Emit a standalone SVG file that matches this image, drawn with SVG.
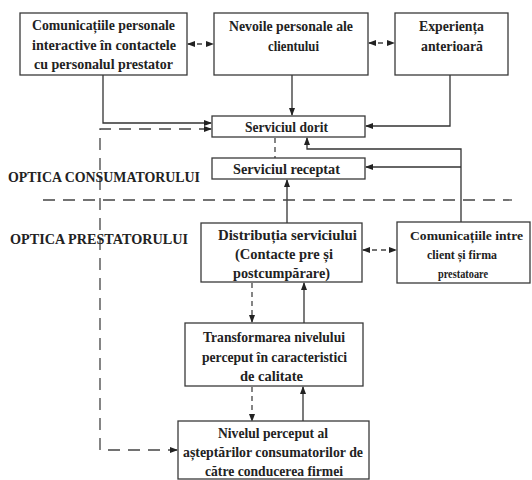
<svg xmlns="http://www.w3.org/2000/svg" width="532" height="480" viewBox="0 0 532 480">
<style>
.box{fill:#fff;stroke:#3a3a3a;stroke-width:1.3}
.t{font-family:"Liberation Serif","Times New Roman",serif;font-weight:bold;font-size:15px;fill:#222}
.s{font-size:13.5px}
.ln{fill:none;stroke:#333;stroke-width:1.3}
.dl{fill:none;stroke:#444;stroke-width:1.3;stroke-dasharray:12 8}
.ds{fill:none;stroke:#444;stroke-width:1.3;stroke-dasharray:5 4}
</style>
<defs>
<marker id="ah" markerUnits="userSpaceOnUse" markerWidth="8" markerHeight="6" refX="7" refY="3" orient="auto">
<path d="M0,0 L8,3 L0,6 Z" fill="#222"/>
</marker>
<marker id="as" markerUnits="userSpaceOnUse" markerWidth="8" markerHeight="6" refX="1" refY="3" orient="auto">
<path d="M8,0 L0,3 L8,6 Z" fill="#222"/>
</marker>
</defs>
<rect width="532" height="480" fill="#fff"/>

<g id="connectors">
<line class="ds" x1="188" y1="44" x2="213" y2="44" marker-start="url(#as)" marker-end="url(#ah)"/>
<line class="ds" x1="369" y1="43" x2="394" y2="43" marker-start="url(#as)" marker-end="url(#ah)"/>
<polyline class="ln" points="103,75 103,123 211,123" marker-end="url(#ah)"/>
<line class="ln" x1="292" y1="75" x2="292" y2="115" marker-end="url(#ah)"/>
<polyline class="ln" points="450,75 450,126 366,126" marker-end="url(#ah)"/>
<polyline class="dl" points="211,129 100,129 100,450 177,450" marker-start="url(#as)" marker-end="url(#ah)"/>
<line class="ds" x1="275" y1="138" x2="275" y2="158"/>
<polyline class="ln" points="461,222 461,149 307,149 307,138" marker-end="url(#ah)"/>
<line class="ln" x1="461" y1="167" x2="366" y2="167" marker-end="url(#ah)"/>
<line class="ln" x1="287" y1="223" x2="287" y2="180" marker-end="url(#ah)"/>
<line class="dl" x1="43" y1="200" x2="512" y2="200"/>
<line class="ds" x1="363" y1="250" x2="396" y2="250" marker-start="url(#as)" marker-end="url(#ah)"/>
<line class="ds" x1="252" y1="283" x2="252" y2="322" marker-end="url(#ah)"/>
<line class="ln" x1="304" y1="323" x2="304" y2="283" marker-end="url(#ah)"/>
<line class="ds" x1="252" y1="387" x2="252" y2="421" marker-end="url(#ah)"/>
<line class="ln" x1="303" y1="421" x2="303" y2="387" marker-end="url(#ah)"/>
</g>

<g id="n1">
<rect class="box" x="20" y="13" width="167" height="62"/>
<text class="t" x="32" y="30" textLength="143" lengthAdjust="spacingAndGlyphs">Comunicațiile personale</text>
<text class="t" x="32" y="50" textLength="144" lengthAdjust="spacingAndGlyphs">interactive  în contactele</text>
<text class="t" x="34" y="69" textLength="139" lengthAdjust="spacingAndGlyphs">cu personalul prestator</text>
</g>
<g id="n2">
<rect class="box" x="214" y="13" width="154" height="62"/>
<text class="t" x="229" y="31" textLength="124" lengthAdjust="spacingAndGlyphs">Nevoile personale ale</text>
<text class="t" x="268" y="51" textLength="51" lengthAdjust="spacingAndGlyphs">clientului</text>
</g>
<g id="n3">
<rect class="box" x="395" y="13" width="113" height="62"/>
<text class="t" x="419" y="31" textLength="65" lengthAdjust="spacingAndGlyphs">Experiența</text>
<text class="t" x="421" y="51" textLength="62" lengthAdjust="spacingAndGlyphs">anterioară</text>
</g>
<g id="n4">
<rect class="box" x="212" y="116" width="153" height="21"/>
<text class="t" x="245" y="132" textLength="83" lengthAdjust="spacingAndGlyphs">Serviciul dorit</text>
</g>
<g id="n5">
<rect class="box" x="212" y="158" width="153" height="21"/>
<text class="t" x="233" y="174" textLength="107" lengthAdjust="spacingAndGlyphs">Serviciul  receptat</text>
</g>
<g id="lbl1">
<text class="t" x="8" y="182" textLength="192" lengthAdjust="spacingAndGlyphs">OPTICA CONSUMATORULUI</text>
</g>
<g id="lbl2">
<text class="t" x="10" y="244" textLength="178" lengthAdjust="spacingAndGlyphs">OPTICA PRESTATORULUI</text>
</g>
<g id="n6">
<rect class="box" x="201" y="223" width="161" height="59"/>
<text class="t" x="218" y="240" textLength="139" lengthAdjust="spacingAndGlyphs">Distribuția serviciului</text>
<text class="t" x="235" y="259" textLength="98" lengthAdjust="spacingAndGlyphs">(Contacte pre și</text>
<text class="t" x="233" y="278" textLength="97" lengthAdjust="spacingAndGlyphs">postcumpărare)</text>
</g>
<g id="n7">
<rect class="box" x="397" y="222" width="133" height="61"/>
<text class="t s" x="410" y="240" textLength="113" lengthAdjust="spacingAndGlyphs">Comunicațiile intre</text>
<text class="t s" x="427" y="259" textLength="70" lengthAdjust="spacingAndGlyphs">client și firma</text>
<text class="t s" x="438" y="278" textLength="50" lengthAdjust="spacingAndGlyphs">prestatoare</text>
</g>
<g id="n8">
<rect class="box" x="185" y="323" width="178" height="63"/>
<text class="t" x="203" y="342" textLength="142" lengthAdjust="spacingAndGlyphs">Transformarea nivelului</text>
<text class="t" x="202" y="362" textLength="145" lengthAdjust="spacingAndGlyphs">perceput în caracteristici</text>
<text class="t" x="240" y="381" textLength="63" lengthAdjust="spacingAndGlyphs">de calitate</text>
</g>
<g id="n9">
<rect class="box" x="178" y="421" width="191" height="58"/>
<text class="t" x="218" y="438" textLength="110" lengthAdjust="spacingAndGlyphs">Nivelul perceput al</text>
<text class="t" x="183" y="457" textLength="180" lengthAdjust="spacingAndGlyphs">așteptărilor consumatorilor de</text>
<text class="t" x="205" y="476" textLength="138" lengthAdjust="spacingAndGlyphs">către conducerea firmei</text>
</g>
</svg>
